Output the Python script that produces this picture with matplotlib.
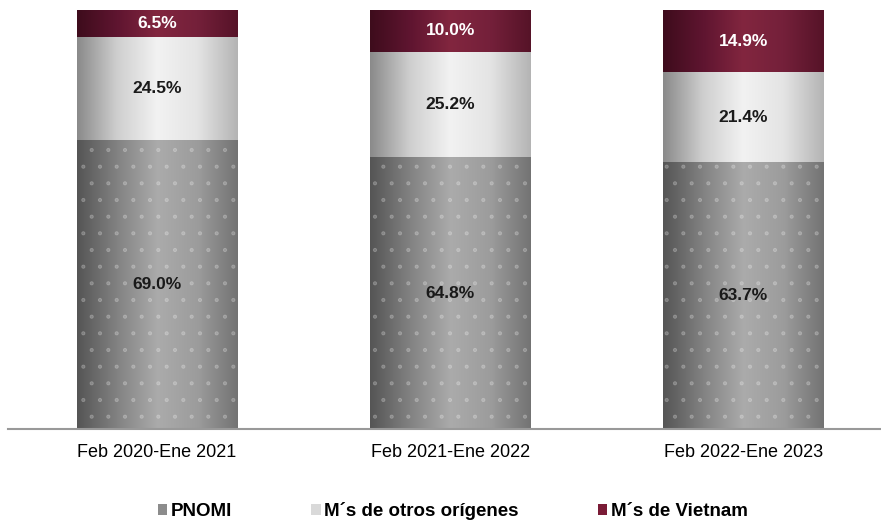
import matplotlib
matplotlib.use("Agg")
import matplotlib.pyplot as plt
import numpy as np
from matplotlib.colors import LinearSegmentedColormap
from matplotlib.patches import Patch

plt.rcParams['font.family'] = ['Liberation Sans', 'DejaVu Sans']
plt.rcParams['hatch.linewidth'] = 0.6

periods = ["Feb 2020-Ene 2021", "Feb 2021-Ene 2022", "Feb 2022-Ene 2023"]
pnomi = [69.0, 64.8, 63.7]
otros = [24.5, 25.2, 21.4]
vietnam = [6.5, 10.0, 14.9]
series_names = ["PNOMI", "M´s de otros orígenes", "M´s de Vietnam"]

# cylinder-like horizontal shading for each series
cmaps = [
    LinearSegmentedColormap.from_list("pn", ["#555555", "#828282", "#ababab", "#9c9c9c", "#737373"]),
    LinearSegmentedColormap.from_list("ot", ["#8a8a8a", "#cfcfcf", "#f2f2f2", "#e4e4e4", "#b4b4b4"]),
    LinearSegmentedColormap.from_list("vn", ["#3e0c1c", "#5f1530", "#82263f", "#74203a", "#561328"]),
]
legend_colors = ["#8c8c8c", "#d9d9d9", "#7a1b36"]
label_colors = ["#1a1a1a", "#1a1a1a", "white"]

fig = plt.figure(figsize=(8.81, 5.21), dpi=100)
ax = fig.add_axes([0.009, 0.177, 0.991, 0.804])

x = np.arange(len(periods))
width = 0.546
grad = np.linspace(0, 1, 256).reshape(1, -1)

bottom = np.zeros(len(periods))
for i, vals in enumerate([pnomi, otros, vietnam]):
    bars = ax.bar(x, vals, width, bottom=bottom, color="none", edgecolor="none")
    for b in bars:
        x0, y0 = b.get_x(), b.get_y()
        ax.imshow(grad, cmap=cmaps[i], aspect="auto", interpolation="bicubic",
                  extent=(x0, x0 + b.get_width(), y0, y0 + b.get_height()),
                  zorder=1)
    if i == 0:
        ax.bar(x, vals, width, bottom=bottom, color="none",
               edgecolor=(1, 1, 1, 0.22), linewidth=0, hatch=".", zorder=2)
    for xi, v, bo in zip(x, vals, bottom):
        ax.text(xi, bo + v / 2, f"{v:.1f}%", ha="center", va="center",
                fontsize=12.5, fontweight="bold", color=label_colors[i], zorder=3)
    bottom += np.array(vals)

ax.set_xlim(-0.509, 2.47)
ax.set_ylim(0, 100)
for s in ["top", "right", "left"]:
    ax.spines[s].set_visible(False)
ax.spines["bottom"].set_color("#999999")
ax.spines["bottom"].set_linewidth(1.5)
ax.set_yticks([])
ax.set_xticks(x)
ax.set_xticklabels(periods, fontsize=13)
ax.tick_params(axis="x", length=0, pad=11)

handles = [Patch(facecolor=c, edgecolor="none") for c in legend_colors]
fig.legend(handles, series_names, loc="center", bbox_to_anchor=(0.514, 0.019),
           ncol=3, frameon=False, handlelength=0.5, handleheight=0.5,
           handletextpad=0.2, columnspacing=4.2,
           prop={"weight": "bold", "size": 13.5})

fig.savefig("out.png", dpi=100)
